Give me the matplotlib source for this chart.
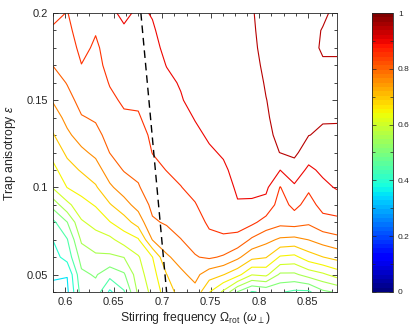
import numpy as np
import matplotlib
matplotlib.use("Agg")
import matplotlib.pyplot as plt
from matplotlib.ticker import MultipleLocator
from matplotlib.cm import ScalarMappable
from matplotlib.colors import Normalize

# grid: stirring frequency (omega_perp units) and trap anisotropy
omega = [0.5875, 0.6021, 0.6168, 0.6314, 0.646, 0.6606, 0.6753, 0.6899, 0.7045, 0.7191, 0.7338,
         0.7484, 0.763, 0.7776, 0.7923, 0.8069, 0.8215, 0.8361, 0.8508, 0.8654, 0.88]
eps = [0.04, 0.05, 0.06, 0.07, 0.08, 0.09, 0.10, 0.11, 0.12, 0.13, 0.14,
       0.15, 0.16, 0.17, 0.18, 0.19, 0.20]

# map values, one row per anisotropy (bottom to top)
z = [
    [0.33, 0.34, 0.47, 0.48, 0.39, 0.445, 0.56, 0.615, 0.675, 0.72, 0.735, 0.652, 0.59, 0.497, 0.445, 0.46, 0.455, 0.44, 0.44, 0.49, 0.505],
    [0.36, 0.352, 0.49, 0.505, 0.468, 0.494, 0.578, 0.63, 0.699, 0.74, 0.764, 0.723, 0.702, 0.667, 0.603, 0.612, 0.541, 0.541, 0.571, 0.591, 0.621],
    [0.38, 0.419, 0.52, 0.541, 0.541, 0.551, 0.595, 0.649, 0.743, 0.768, 0.797, 0.807, 0.794, 0.761, 0.714, 0.703, 0.644, 0.637, 0.677, 0.699, 0.717],
    [0.401, 0.447, 0.558, 0.579, 0.588, 0.623, 0.645, 0.752, 0.778, 0.799, 0.815, 0.839, 0.845, 0.835, 0.792, 0.765, 0.742, 0.737, 0.751, 0.772, 0.786],
    [0.438, 0.499, 0.594, 0.617, 0.648, 0.678, 0.721, 0.794, 0.805, 0.815, 0.832, 0.857, 0.86, 0.87, 0.861, 0.831, 0.815, 0.821, 0.808, 0.833, 0.837],
    [0.52, 0.587, 0.632, 0.654, 0.696, 0.732, 0.768, 0.811, 0.82, 0.832, 0.848, 0.866, 0.872, 0.897, 0.896, 0.884, 0.828, 0.864, 0.832, 0.866, 0.874],
    [0.605, 0.651, 0.669, 0.694, 0.742, 0.772, 0.796, 0.825, 0.836, 0.849, 0.86, 0.876, 0.883, 0.906, 0.907, 0.91, 0.848, 0.893, 0.858, 0.889, 0.904],
    [0.636, 0.68, 0.705, 0.729, 0.774, 0.803, 0.811, 0.838, 0.851, 0.859, 0.87, 0.886, 0.894, 0.912, 0.914, 0.924, 0.9005, 0.926, 0.891, 0.909, 0.917],
    [0.666, 0.71, 0.74, 0.761, 0.801, 0.816, 0.823, 0.851, 0.859, 0.868, 0.881, 0.895, 0.904, 0.917, 0.92, 0.933, 0.951, 0.961, 0.922, 0.926, 0.93],
    [0.696, 0.741, 0.770, 0.788, 0.814, 0.83, 0.835, 0.857, 0.867, 0.878, 0.892, 0.905, 0.911, 0.923, 0.926, 0.947, 0.953, 0.964, 0.951, 0.943, 0.944],
    [0.726, 0.764, 0.797, 0.805, 0.827, 0.843, 0.847, 0.863, 0.875, 0.887, 0.902, 0.913, 0.918, 0.928, 0.932, 0.948, 0.956, 0.966, 0.96, 0.954, 0.953],
    [0.754, 0.784, 0.815, 0.815, 0.84, 0.857, 0.855, 0.87, 0.884, 0.897, 0.913, 0.92, 0.925, 0.932, 0.936, 0.9495, 0.958, 0.966, 0.964, 0.957, 0.956],
    [0.777, 0.8025, 0.832, 0.824, 0.853, 0.87, 0.862, 0.876, 0.892, 0.903, 0.923, 0.927, 0.93, 0.936, 0.94, 0.952, 0.96, 0.965, 0.965, 0.958, 0.957],
    [0.801, 0.814, 0.849, 0.834, 0.8655, 0.882, 0.868, 0.883, 0.901, 0.91, 0.93, 0.933, 0.935, 0.94, 0.944, 0.954, 0.962, 0.965, 0.965, 0.955, 0.955],
    [0.821, 0.826, 0.862, 0.843, 0.868, 0.892, 0.877, 0.889, 0.909, 0.922, 0.936, 0.938, 0.94, 0.943, 0.946, 0.956, 0.963, 0.964, 0.963, 0.945, 0.945],
    [0.843, 0.838, 0.872, 0.853, 0.878, 0.894, 0.885, 0.895, 0.917, 0.93, 0.94, 0.942, 0.943, 0.945, 0.947, 0.958, 0.965, 0.963, 0.962, 0.948, 0.94],
    [0.865, 0.848, 0.88, 0.87, 0.89, 0.91, 0.892, 0.903, 0.925, 0.935, 0.944, 0.944, 0.945, 0.946, 0.948, 0.96, 0.965, 0.962, 0.96, 0.957, 0.94],
]
levels = [0.35, 0.4, 0.45, 0.5, 0.55, 0.6, 0.65, 0.7, 0.75, 0.8, 0.85, 0.9, 0.95]

# dashed reference line
line_eps = [0.2, 0.04]
line_omega = [0.678, 0.7045]

plt.rcParams['font.family'] = ['Liberation Sans', 'DejaVu Sans']
plt.rcParams['mathtext.fontset'] = 'custom'
plt.rcParams['mathtext.rm'] = 'Liberation Sans'
plt.rcParams['mathtext.it'] = 'Liberation Sans:italic'

tc = '#262626'
cmap = plt.get_cmap('jet', 64)
norm = Normalize(vmin=0, vmax=1)

fig = plt.figure(figsize=(4.11, 3.27), dpi=100)
ax = fig.add_axes([53/411, 35/327, 284/411, 279/327])
cax = fig.add_axes([372/411, 35/327, 21/411, 279/327])

ax.contour(omega, eps, np.array(z), levels=levels, cmap=cmap, norm=norm, linewidths=0.8)
ax.plot(line_omega, line_eps, color='black', lw=1.0, dashes=(5.5, 3.5))

ax.set_xlim(0.5875, 0.88)
ax.set_ylim(0.04, 0.2)
ax.set_xticks([0.6, 0.65, 0.7, 0.75, 0.8, 0.85])
ax.set_xticklabels(['0.6', '0.65', '0.7', '0.75', '0.8', '0.85'])
ax.set_yticks([0.05, 0.1, 0.15, 0.2])
ax.set_yticklabels(['0.05', '0.1', '0.15', '0.2'])
ax.xaxis.set_minor_locator(MultipleLocator(0.0125))
ax.yaxis.set_minor_locator(MultipleLocator(0.01))
ax.tick_params(which='both', direction='in', top=True, right=True, colors=tc, labelsize=8, width=0.6)
ax.tick_params(which='major', length=3.5)
ax.tick_params(which='minor', length=2)
for s in ax.spines.values():
    s.set_linewidth(0.6)
    s.set_color(tc)
ax.set_xlabel(r'Stirring frequency $\Omega_{\mathrm{rot}}$ ($\omega_\perp$)', fontsize=8.8, color=tc, labelpad=2)
ax.set_ylabel(r'Trap anisotropy $\varepsilon$', fontsize=8.8, color=tc, labelpad=6)

sm = ScalarMappable(norm=norm, cmap=cmap)
cb = fig.colorbar(sm, cax=cax)
cb.set_ticks([0, 0.2, 0.4, 0.6, 0.8, 1])
cb.set_ticklabels(['0', '0.2', '0.4', '0.6', '0.8', '1'])
cb.ax.yaxis.set_minor_locator(MultipleLocator(0.1))
cb.ax.tick_params(which='both', direction='in', left=True, right=True, colors=tc, labelsize=6, width=0.5)
cb.ax.tick_params(which='major', length=3)
cb.ax.tick_params(which='minor', length=2)
cb.outline.set_linewidth(0.6)
cb.outline.set_edgecolor(tc)

fig.savefig('out.png', dpi=100)
